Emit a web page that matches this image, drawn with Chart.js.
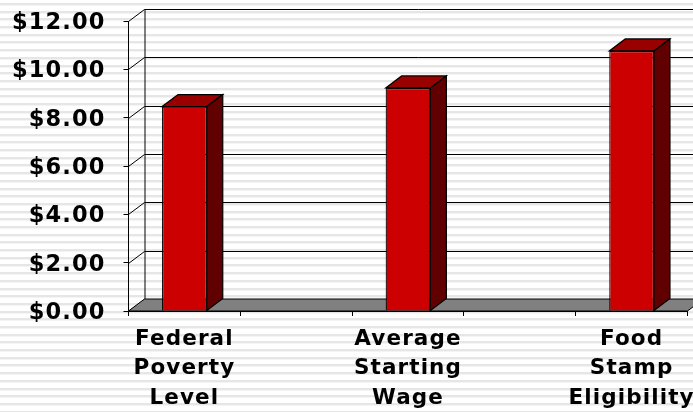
<!DOCTYPE html>
<html>
<head>
<meta charset="utf-8">
<title>Wages</title>
<style>
html, body { margin: 0; padding: 0; }
body {
    width: 693px; height: 412px; overflow: hidden;
    background: repeating-linear-gradient(180deg, #ffffff 0, #ffffff 3px, #e6e6e6 3px, #e6e6e6 5px, #f4f4f4 5px, #f4f4f4 6px, #ffffff 6px, #ffffff 7.69px);
}
#wrap { position: relative; width: 693px; height: 412px; }
</style>
<script src="https://cdn.jsdelivr.net/npm/chart.js@4"></script>
</head>
<body>
<div id="wrap"><canvas id="myChart" width="693" height="412"></canvas></div>
<script>
// blank categories keep the gaps between the bars
const categories = [["Federal", "Poverty", "Level"], "", ["Average", "Starting", "Wage"], "", ["Food", "Stamp", "Eligibility"]];
const wages = [8.46, null, 9.23, null, 10.76];
const yMax = 12;
const yStep = 2;

// depth of the fake 3D box
const DX = 16;
const DY = 12;

function poly(ctx, pts, fill) {
    ctx.beginPath();
    pts.forEach((p, i) => i ? ctx.lineTo(p[0], p[1]) : ctx.moveTo(p[0], p[1]));
    ctx.closePath();
    ctx.fillStyle = fill;
    ctx.fill();
    ctx.stroke();
}

const spacing = {
    id: "spacing",
    beforeDraw(chart) {
        chart.ctx.letterSpacing = "1.1px";
    }
};

// back wall, left wall and floor, drawn behind the bars
const walls = {
    id: "walls",
    beforeDatasetsDraw(chart) {
        const { ctx, scales: { x, y } } = chart;
        const left = x.left, right = x.right, bottom = y.getPixelForValue(0);
        ctx.save();
        ctx.strokeStyle = "#000";
        ctx.lineWidth = 1;
        for (let v = 0; v <= yMax; v += yStep) {
            const py = Math.round(y.getPixelForValue(v)) + 0.5;
            ctx.beginPath();
            ctx.moveTo(left, py);
            ctx.lineTo(left + DX, py - DY);
            if (v > 0) ctx.lineTo(chart.width, py - DY);
            ctx.stroke();
        }
        ctx.beginPath();
        ctx.moveTo(left + DX + 0.5, y.getPixelForValue(yMax) - DY);
        ctx.lineTo(left + DX + 0.5, bottom - DY);
        ctx.stroke();
        poly(ctx, [[left, bottom], [right, bottom], [right + DX, bottom - DY], [left + DX, bottom - DY]], "#808080");
        ctx.restore();
    }
};

// top and side faces of each bar, taken from the bar elements
const boxFaces = {
    id: "boxFaces",
    afterDatasetsDraw(chart) {
        const { ctx } = chart;
        ctx.save();
        ctx.strokeStyle = "#000";
        ctx.lineWidth = 1.2;
        chart.getDatasetMeta(0).data.forEach((bar, i) => {
            if (wages[i] === null) return;
            const l = bar.x - bar.width / 2, r = bar.x + bar.width / 2;
            poly(ctx, [[l, bar.y], [l + DX, bar.y - DY], [r + DX, bar.y - DY], [r, bar.y]], "#990000");
            poly(ctx, [[r, bar.y], [r + DX, bar.y - DY], [r + DX, bar.base - DY], [r, bar.base]], "#600000");
        });
        ctx.restore();
    }
};

new Chart(document.getElementById("myChart"), {
    type: "bar",
    data: {
        labels: categories,
        datasets: [{
            data: wages,
            backgroundColor: "#cc0000",
            borderColor: "#000",
            borderWidth: 1.2,
            barPercentage: 0.4,
            categoryPercentage: 1
        }]
    },
    plugins: [spacing, walls, boxFaces],
    options: {
        responsive: false,
        animation: false,
        layout: { padding: { top: 21, right: 5.5, left: 0, bottom: 0 } },
        plugins: { legend: { display: false }, tooltip: { enabled: false } },
        scales: {
            x: {
                // labels may overflow the edge, keep the plot width fixed
                afterFit(s) { s.height = 101; s.paddingLeft = 0; s.paddingRight = 0; },
                grid: { drawOnChartArea: false, color: "#000", tickLength: 5, offset: true },
                border: { color: "#000", width: 1 },
                ticks: {
                    autoSkip: false,
                    maxRotation: 0,
                    color: "#000",
                    padding: 8,
                    font: { family: "'DejaVu Sans'", weight: "bold", size: 21.5, lineHeight: 1.39 }
                }
            },
            y: {
                min: 0,
                max: yMax,
                afterFit(s) { s.width = 128.5; s.paddingTop = 0; s.paddingBottom = 0; },
                grid: { drawOnChartArea: false, color: "#000", tickLength: 5 },
                border: { color: "#000", width: 1 },
                ticks: {
                    stepSize: yStep,
                    color: "#000",
                    padding: 18,
                    labelOffset: 2,
                    font: { family: "'DejaVu Sans'", weight: "bold", size: 22.5 },
                    callback: v => "$" + v.toFixed(2)
                }
            }
        }
    }
});
</script>
</body>
</html>
